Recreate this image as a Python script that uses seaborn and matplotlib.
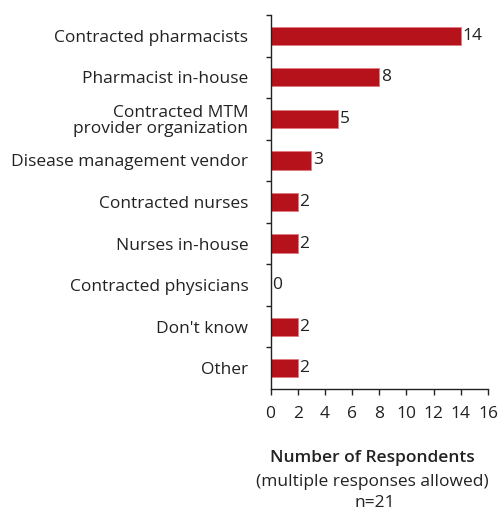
import matplotlib
matplotlib.use("Agg")
import matplotlib.pyplot as plt
import seaborn as sns
import pandas as pd

categories = [
    "Contracted pharmacists",
    "Pharmacist in-house",
    "Contracted MTM\nprovider organization",
    "Disease management vendor",
    "Contracted nurses",
    "Nurses in-house",
    "Contracted physicians",
    "Don't know",
    "Other",
]
respondents = [14, 8, 5, 3, 2, 2, 0, 2, 2]
x_ticks = [0, 2, 4, 6, 8, 10, 12, 14, 16]

df = pd.DataFrame({"category": categories, "n": respondents})

sns.set_theme(style="white")
plt.rcParams["font.family"] = ["Open Sans", "DejaVu Sans"]

fs = 12.5
ink = "#222222"

fig = plt.figure(figsize=(5.01, 5.12), dpi=100)
ax = fig.add_axes([270.5 / 501, 1 - 389 / 512, 217.5 / 501, 374 / 512])

bar_color = "#b5121b"
sns.barplot(data=df, x="n", y="category", orient="h", color=bar_color,
            width=0.44, saturation=1, edgecolor="#e07a80", linewidth=0.6, ax=ax)

for i, v in enumerate(respondents):
    ax.text(v + 0.12, i, str(v), va="center", ha="left", fontsize=fs, color=ink)

ax.set_xlim(0, 16)
ax.set_ylim(8.5, -0.5)
ax.set_xticks(x_ticks)
ax.set_xticklabels([str(t) for t in x_ticks], fontsize=fs, color=ink)
ax.set_yticks(range(len(categories)))
ax.set_yticklabels(categories, fontsize=fs, color=ink, linespacing=1.05)
ax.tick_params(axis="y", which="major", length=0, pad=16)

# short ticks on the category boundaries
ax.set_yticks([i - 0.5 for i in range(len(categories))], minor=True)
ax.tick_params(axis="y", which="minor", length=3.5, width=1, color=ink, left=True)
ax.tick_params(axis="x", length=4, width=1, color=ink, direction="out", pad=8, bottom=True)

for s in ["top", "right"]:
    ax.spines[s].set_visible(False)
for s in ["left", "bottom"]:
    ax.spines[s].set_color(ink)
    ax.spines[s].set_linewidth(1)

ax.set_xlabel("")
ax.set_ylabel("")

cx = 372 / 501
fig.text(cx, 1 - 458 / 512, "Number of Respondents", ha="center", va="center",
         fontsize=fs, fontweight="semibold", color=ink)
fig.text(cx, 1 - 482 / 512, "(multiple responses allowed)", ha="center", va="center",
         fontsize=fs, color=ink)
fig.text(cx + 3 / 501, 1 - 503 / 512, "n=21", ha="center", va="center",
         fontsize=fs, color=ink)

fig.savefig("out.png", dpi=100)
